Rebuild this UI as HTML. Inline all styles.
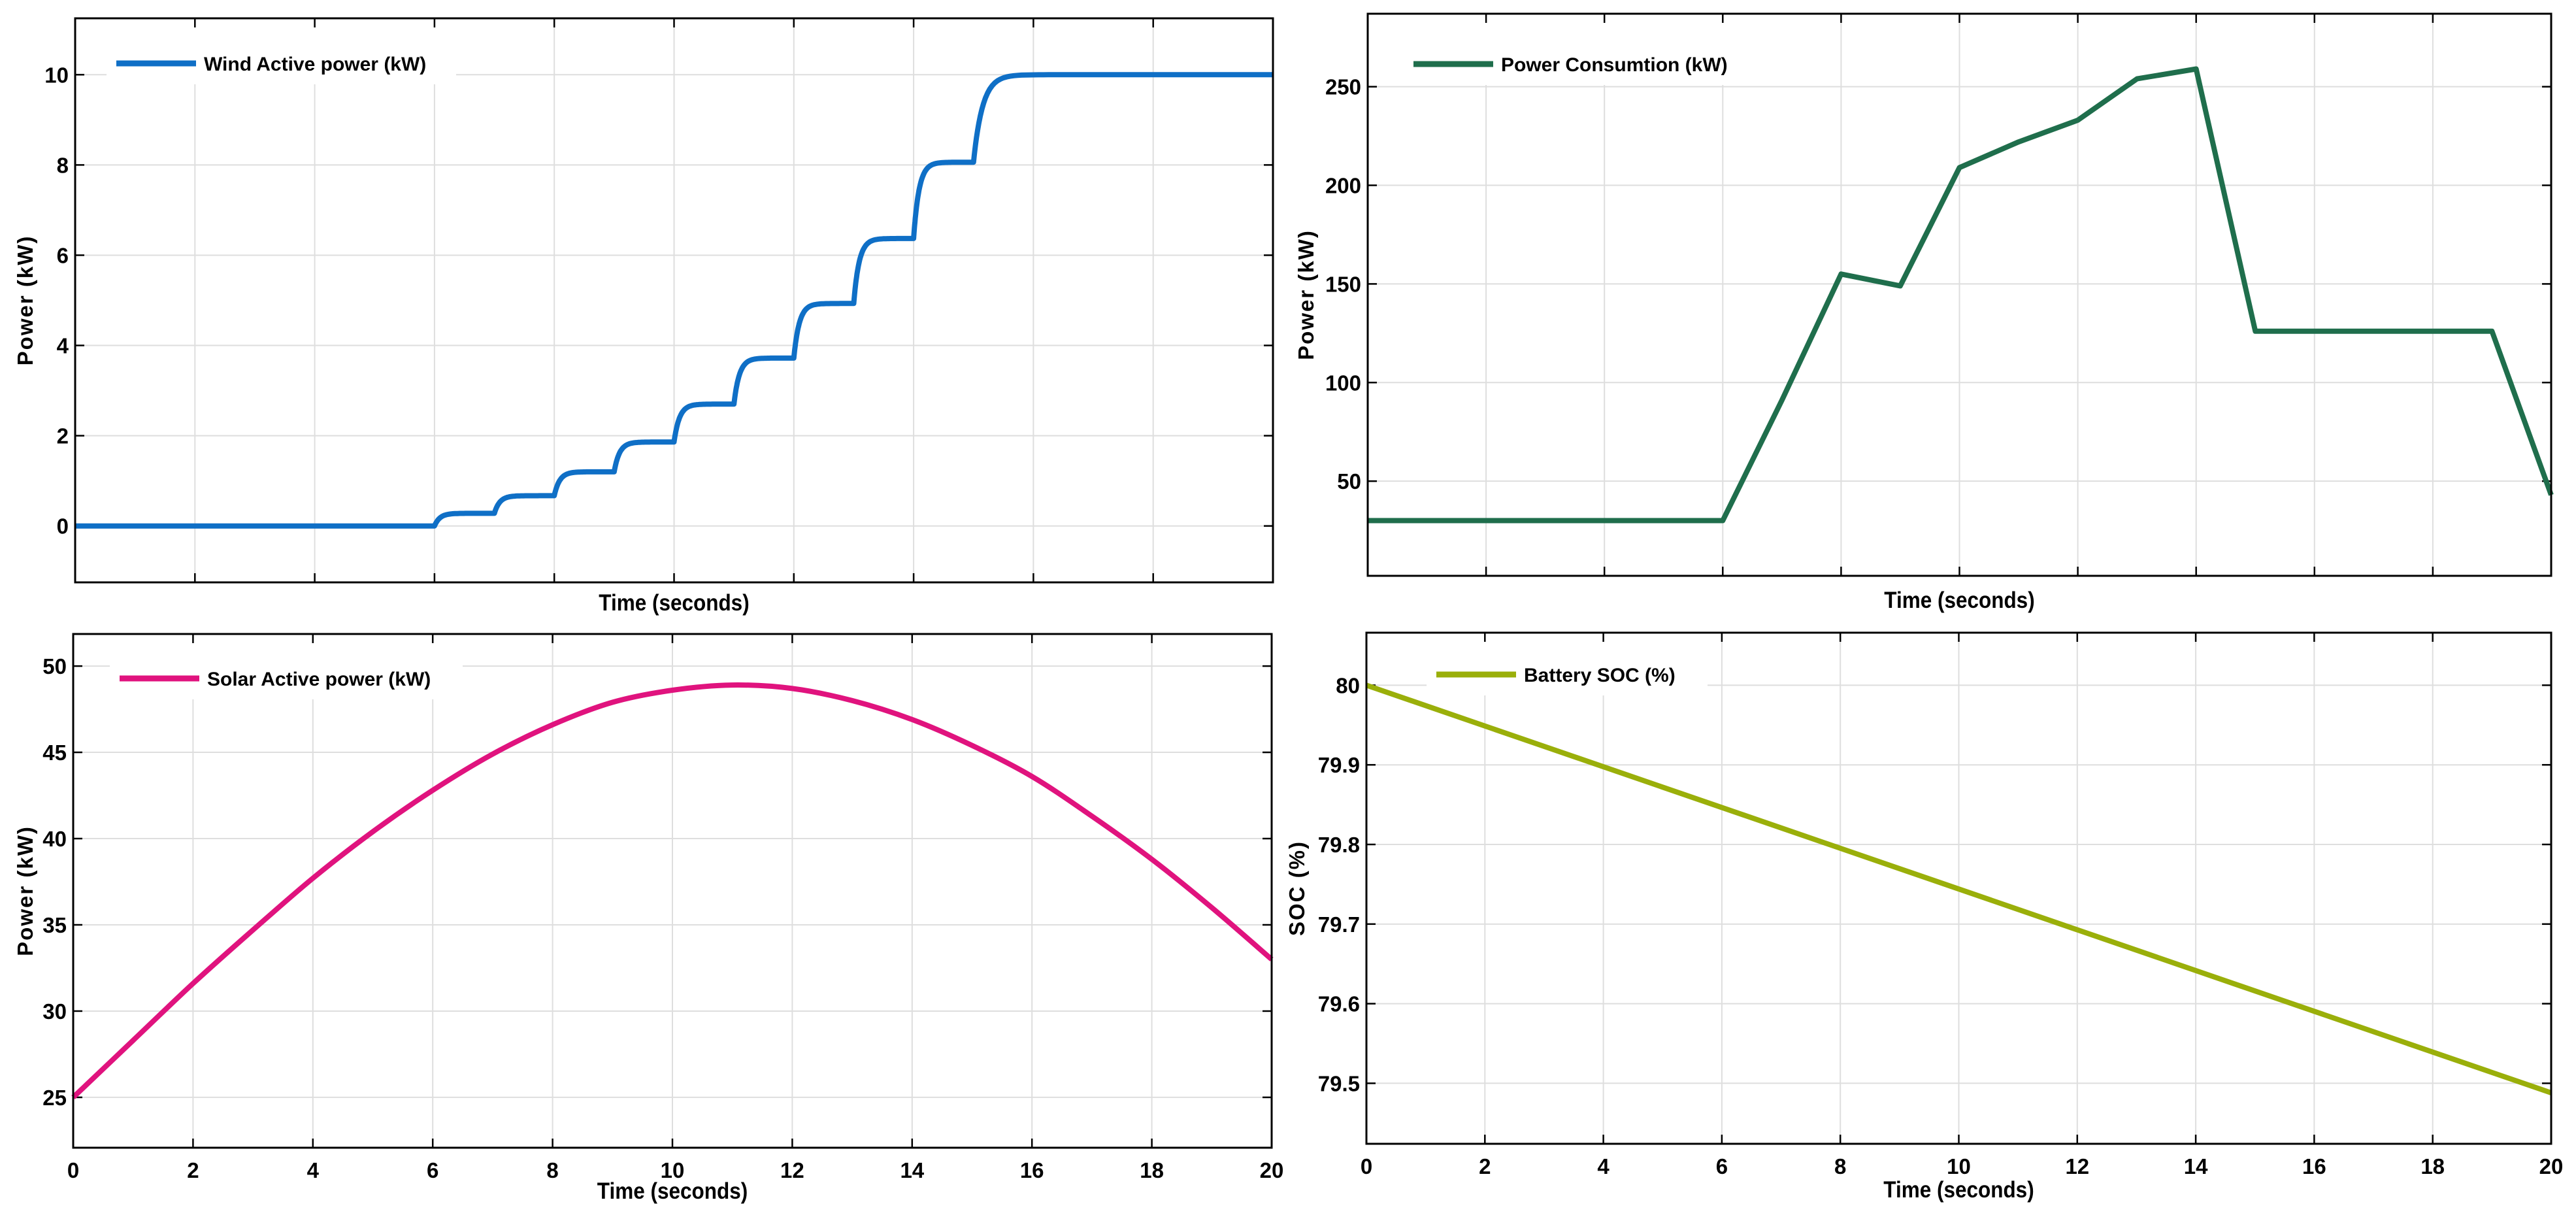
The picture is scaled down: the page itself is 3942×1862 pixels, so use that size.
<!DOCTYPE html>
<html><head><meta charset="utf-8"><style>
html,body{margin:0;padding:0;background:#fff;}
svg{display:block;font-family:"Liberation Sans",Arial,sans-serif;}
</style></head>
<body>
<svg id="fig" width="3942" height="1862" viewBox="0 0 3942 1862" xmlns="http://www.w3.org/2000/svg"></svg>
<script>
// ---- data ----
const xTicks = [0,2,4,6,8,10,12,14,16,18,20];
const windStepTimes = [6,7,8,9,10,11,12,13,14,15];
const windStepLevels = [0.28,0.67,1.2,1.86,2.7,3.72,4.93,6.37,8.06,10];
const windTicks = [0,2,4,6,8,10];
const consTimes = [0,6,7,8,9,10,11,12,13,14,15,19,20];
const consValues = [30,30,91,155,149,209,222,233,254,259,126,126,43];
const consTicks = [50,100,150,200,250];
const solarTimes = [0,1,2,3,4,5,6,7,8,9,10,11,12,13,14,15,16,17,18,19,20];
const solarValues = [25,28.3,31.6,34.7,37.7,40.4,42.8,44.9,46.6,47.9,48.6,48.9,48.7,48.0,46.9,45.4,43.6,41.3,38.8,36.0,33.0];
const solarTicks = [25,30,35,40,45,50];
const socTimes = [0,20];
const socValues = [80,79.488];
const socTicks = [79.5,79.6,79.7,79.8,79.9,80];
const socTickLabels = ["79.5","79.6","79.7","79.8","79.9","80"];

const NS = "http://www.w3.org/2000/svg";
const svg = document.getElementById('fig');
function mk(tag, attrs, parent){
  const e = document.createElementNS(NS, tag);
  for (const k in attrs) e.setAttribute(k, attrs[k]);
  (parent||svg).appendChild(e);
  return e;
}

function panel(cfg){
  const g = mk('g', {});
  
  
  const sx = t => cfg.L + (t - 0) / 20 * (cfg.R - cfg.L);
  const sy = v => cfg.B - (v - cfg.ymin) / (cfg.ymax - cfg.ymin) * (cfg.B - cfg.T);
  xTicks.forEach(t => {
    const l = mk('line', {x1:sx(t), x2:sx(t), y1:cfg.T, y2:cfg.B, stroke:'#dedede', 'stroke-width':2}, g);
    
    
  });
  cfg.yTicks.forEach(v => {
    const l = mk('line', {x1:cfg.L, x2:cfg.R, y1:sy(v), y2:sy(v), stroke:'#dedede', 'stroke-width':2}, g);
    
    
  });
  const lb = mk('rect', {x:cfg.legX-15, y:cfg.T+10, width:cfg.legW, height:cfg.legY-cfg.T+22, fill:'#fff'}, g);
  
  
  xTicks.forEach(t => {
    const a = mk('line', {x1:sx(t), x2:sx(t), y1:cfg.B, y2:cfg.B-14, stroke:'#000', 'stroke-width':2.5}, g);
    
    
    const b = mk('line', {x1:sx(t), x2:sx(t), y1:cfg.T, y2:cfg.T+14, stroke:'#000', 'stroke-width':2.5}, g);
    
    
    if (cfg.xLabels){
      const tx = mk('text', {x:sx(t), y:cfg.B+46, 'font-size':33, 'font-weight':'bold', 'text-anchor':'middle'}, g);
      
      
      tx.textContent = t;
    }
  });
  cfg.yTicks.forEach((v,i) => {
    const a = mk('line', {x1:cfg.L, x2:cfg.L+14, y1:sy(v), y2:sy(v), stroke:'#000', 'stroke-width':2.5}, g);
    
    
    const b = mk('line', {x1:cfg.R, x2:cfg.R-14, y1:sy(v), y2:sy(v), stroke:'#000', 'stroke-width':2.5}, g);
    
    
    const tx = mk('text', {x:cfg.L-10, y:sy(v)+12, 'font-size':33, 'font-weight':'bold', 'text-anchor':'end'}, g);
    
    
    tx.textContent = cfg.yLabels ? cfg.yLabels[i] : v;
  });
  const p = mk('path', {d:cfg.path(sx, sy), fill:'none', stroke:cfg.color, 'stroke-width':8, 'stroke-linejoin':'round'}, g);
  
  
  const fr = mk('rect', {x:cfg.L, y:cfg.T, width:cfg.R-cfg.L, height:cfg.B-cfg.T, fill:'none', stroke:'#000', 'stroke-width':3}, g);
  
  
  const ll = mk('line', {x1:cfg.legX, x2:cfg.legX+122, y1:cfg.legY, y2:cfg.legY, stroke:cfg.color, 'stroke-width':9}, g);
  
  
  const lt = mk('text', {x:cfg.legX+134, y:cfg.legY+11, 'font-size':30, 'font-weight':'bold'}, g);
  
  
  lt.textContent = cfg.legend;
  const xt = mk('text', {x:(cfg.L+cfg.R)/2, y:cfg.xTitleY, 'font-size':35, 'font-weight':'bold', 'text-anchor':'middle', transform:`translate(${(cfg.L+cfg.R)/2},0) scale(0.9,1) translate(${-(cfg.L+cfg.R)/2},0)`}, g);
  
  
  xt.textContent = 'Time (seconds)';
  const cy = (cfg.T+cfg.B)/2;
  const yt = mk('text', {x:cfg.yTitleX, y:cy, 'font-size':33, 'font-weight':'bold', 'text-anchor':'middle', 'letter-spacing':2, transform:`rotate(-90 ${cfg.yTitleX} ${cy})`}, g);
  
  
  yt.textContent = cfg.yTitle;
}

function linePath(ts, vs){
  return (sx, sy) => ts.map((t,i) => (i? 'L':'M') + sx(t).toFixed(1) + ' ' + sy(vs[i]).toFixed(1)).join(' ');
}
function smoothPath(ts, vs){
  return (sx, sy) => {
    const P = ts.map((t,i) => [sx(t), sy(vs[i])]);
    let d = 'M' + P[0][0] + ' ' + P[0][1];
    for (let i=0;i<P.length-1;i++){
      const p0 = P[Math.max(0,i-1)], p1 = P[i], p2 = P[i+1], p3 = P[Math.min(P.length-1,i+2)];
      const c1 = [p1[0]+(p2[0]-p0[0])/6, p1[1]+(p2[1]-p0[1])/6];
      const c2 = [p2[0]-(p3[0]-p1[0])/6, p2[1]-(p3[1]-p1[1])/6];
      d += ` C${c1[0].toFixed(1)} ${c1[1].toFixed(1)} ${c2[0].toFixed(1)} ${c2[1].toFixed(1)} ${p2[0].toFixed(1)} ${p2[1].toFixed(1)}`;
    }
    return d;
  };
}
function stepPath(times, levels){
  return (sx, sy) => {
    let d = 'M' + sx(0) + ' ' + sy(0);
    let prev = 0;
    for (let i=0;i<times.length;i++){
      const t0 = times[i];
      const end = i < times.length-1 ? times[i+1] : 20;
      const tau = i === times.length-1 ? 0.15 : 0.09;
      d += ' L' + sx(t0).toFixed(1) + ' ' + sy(prev).toFixed(1);
      const N = 60;
      for (let k=1;k<=N;k++){
        const f = k/N;
        const tt = t0 + (end-t0)*f*f;
        const v = prev + (levels[i]-prev)*(1-Math.exp(-(tt-t0)/tau));
        d += ' L' + sx(tt).toFixed(1) + ' ' + sy(v).toFixed(1);
      }
      prev = levels[i];
    }
    return d;
  };
}

panel({name:'wind-power-panel', L:115, R:1948, T:28, B:891, ymin:-1.25, ymax:11.25,
  yTicks:windTicks, path:stepPath(windStepTimes, windStepLevels), color:'#0f6fc6', seriesName:'wind-power-line',
  legend:'Wind Active power (kW)', legX:178, legY:97, legW:535, xLabels:false, xTitleY:934, yTitle:'Power (kW)', yTitleX:50});
panel({name:'power-consumption-panel', L:2093, R:3904, T:21, B:881, ymin:2, ymax:287,
  yTicks:consTicks, path:linePath(consTimes, consValues), color:'#1f6e4c', seriesName:'power-consumption-line',
  legend:'Power Consumtion (kW)', legX:2163, legY:98, legW:545, xLabels:false, xTitleY:930, yTitle:'Power (kW)', yTitleX:2010});
panel({name:'solar-power-panel', L:112, R:1946, T:970, B:1756, ymin:22.08, ymax:51.86,
  yTicks:solarTicks, path:smoothPath(solarTimes, solarValues), color:'#e0137e', seriesName:'solar-power-line',
  legend:'Solar Active power (kW)', legX:183, legY:1038, legW:540, xLabels:true, xTitleY:1834, yTitle:'Power (kW)', yTitleX:50});
panel({name:'battery-soc-panel', L:2091, R:3904, T:968, B:1750, ymin:79.424, ymax:80.066,
  yTicks:socTicks, yLabels:socTickLabels, path:linePath(socTimes, socValues), color:'#9aaf0a', seriesName:'battery-soc-line',
  legend:'Battery SOC (%)', legX:2198, legY:1032, legW:430, xLabels:true, xTitleY:1832, yTitle:'SOC (%)', yTitleX:1996});
</script>
</body></html>
